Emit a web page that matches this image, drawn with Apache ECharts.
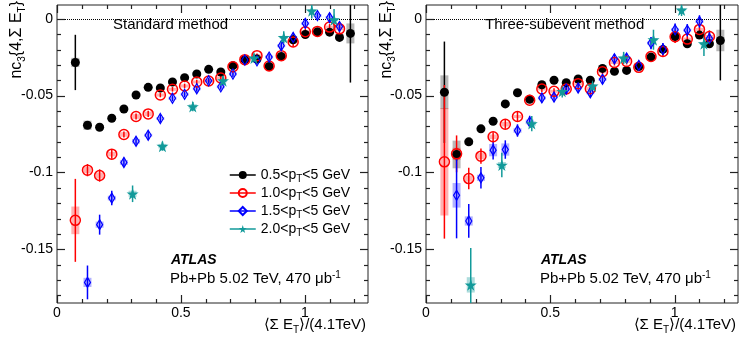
<!DOCTYPE html>
<html>
<head>
<meta charset="utf-8">
<script src="https://cdn.jsdelivr.net/npm/echarts@6/dist/echarts.min.js"></script>
<style>
html, body { margin: 0; background: #fff; }
#chart { width: 747px; height: 349px; }
</style>
</head>
<body>
<div id="chart"></div>
<script>
// centrality bins, <Sum ET>/(4.1TeV)
const xBins = [0.074, 0.123, 0.172, 0.221, 0.270, 0.319, 0.368, 0.417, 0.466, 0.515, 0.564, 0.612,
    0.661, 0.710, 0.758, 0.807, 0.856, 0.905, 0.953, 1.002, 1.051, 1.100, 1.140, 1.184]
const xBlack = xBins
const xRed = xBins.slice(0, 23)
const xBlue = xBins.slice(1, 23)
const xTealStd = [0.305, 0.4255, 0.548, 0.670, 0.795, 0.915, 1.028, 1.118]
const xTealSub = [0.180, 0.305, 0.4255, 0.548, 0.670, 0.795, 0.915, 1.028, 1.118]

// standard method
const stdBlack = [-0.0284, -0.0693, -0.0706, -0.0647, -0.0587, -0.0496, -0.0446, -0.0450, -0.0411, -0.0383, -0.0359, -0.0329,
    -0.0346, -0.0305, -0.0266, -0.0262, -0.0310, -0.0245, -0.0136, -0.0102, -0.0084, -0.0087, -0.0121, -0.0095]
const stdBlackStat = [0.018, 0.002, 0.002, 0.002, 0.0015, 0.0015, 0.0012, 0.0012, 0.0015, 0.0015, 0.0012, 0.0012,
    0.0012, 0.0015, 0.0015, 0.0015, 0.0015, 0.0015, 0.002, 0.002, 0.0015, 0.0015, 0.0025, 0.032]
const stdBlackSys = [0.003, 0.003, 0.0015, 0.001, 0.001, 0.001, 0.001, 0.001, 0.001, 0.001, 0.001, 0.001,
    0.001, 0.001, 0.001, 0.001, 0.001, 0.001, 0.001, 0.001, 0.001, 0.001, 0.0015, 0.0065]
const stdRed = [-0.1312, -0.0985, -0.1020, -0.0881, -0.0753, -0.0636, -0.0619, -0.0496, -0.0459, -0.0437, -0.0411, -0.0405,
    -0.0385, -0.0312, -0.0266, -0.0240, -0.0307, -0.0240, -0.0151, -0.0084, -0.0082, -0.0054, -0.0065]
const stdRedStat = [0.027, 0.004, 0.004, 0.003, 0.002, 0.002, 0.002, 0.0015, 0.0015, 0.0015, 0.0015, 0.0015,
    0.0015, 0.0015, 0.0015, 0.0015, 0.0015, 0.0015, 0.003, 0.002, 0.0015, 0.002, 0.004]
const stdRedSys = [0.009, 0.002, 0.002, 0.0015, 0.0015, 0.0015, 0.0015, 0.001, 0.001, 0.001, 0.001, 0.001,
    0.001, 0.001, 0.001, 0.001, 0.001, 0.001, 0.001, 0.001, 0.001, 0.001, 0.001]
const stdBlue = [-0.1716, -0.1340, -0.1167, -0.0935, -0.0797, -0.0758, -0.0649, -0.0517, -0.0491, -0.0455, -0.0403,
    -0.0442, -0.0359, -0.0268, -0.0273, -0.0249, -0.0175, -0.0121, -0.0030, 0.0021, 0.0008, -0.0050]
const stdBlueStat = [0.011, 0.0065, 0.0047, 0.003, 0.003, 0.003, 0.0025, 0.002, 0.002, 0.002, 0.002,
    0.002, 0.002, 0.002, 0.002, 0.002, 0.003, 0.003, 0.003, 0.002, 0.003, 0.003]
const stdBlueSys = [0.003, 0.002, 0.0015, 0.0015, 0.0015, 0.001, 0.001, 0.001, 0.001, 0.001, 0.001,
    0.001, 0.001, 0.001, 0.001, 0.001, 0.001, 0.001, 0.001, 0.001, 0.001, 0.001]
const stdTeal = [-0.1139, -0.0829, -0.0571, -0.0403, -0.0255, -0.0121, 0.0052, -0.0006]
const stdTealStat = [0.0054, 0.003, 0.003, 0.003, 0.003, 0.004, 0.005, 0.007]
const stdTealSys = [0.002, 0.0015, 0.0015, 0.001, 0.001, 0.001, 0.001, 0.001]

// three-subevent method
const subBlack = [-0.0478, -0.0883, -0.0801, -0.0716, -0.0667, -0.0554, -0.0481, -0.0524, -0.0429, -0.0400, -0.0416, -0.0392,
    -0.0400, -0.0323, -0.0342, -0.0336, -0.0310, -0.0249, -0.0199, -0.0115, -0.0162, -0.0106, -0.0162, -0.0141]
const subBlackStat = [0.033, 0.004, 0.002, 0.0025, 0.002, 0.002, 0.0015, 0.002, 0.0015, 0.0015, 0.0015, 0.0015,
    0.0015, 0.0015, 0.0015, 0.0015, 0.0015, 0.002, 0.002, 0.002, 0.0015, 0.0015, 0.002, 0.026]
const subBlackSys = [0.011, 0.009, 0.002, 0.0015, 0.001, 0.001, 0.001, 0.001, 0.001, 0.001, 0.001, 0.001,
    0.001, 0.001, 0.001, 0.001, 0.001, 0.001, 0.001, 0.001, 0.001, 0.001, 0.0015, 0.007]
const subRed = [-0.0931, -0.0879, -0.1040, -0.0894, -0.0768, -0.0686, -0.0636, -0.0530, -0.0457, -0.0472, -0.0457, -0.0422,
    -0.0455, -0.0344, -0.0284, -0.0277, -0.0316, -0.0245, -0.0212, -0.0117, -0.0132, -0.0069, -0.0115]
const subRedStat = [0.050, 0.012, 0.007, 0.005, 0.003, 0.003, 0.003, 0.002, 0.002, 0.002, 0.002, 0.002,
    0.002, 0.002, 0.002, 0.002, 0.002, 0.002, 0.003, 0.004, 0.002, 0.002, 0.004]
const subRedSys = [0.035, 0.004, 0.002, 0.002, 0.0015, 0.0015, 0.001, 0.001, 0.001, 0.001, 0.001, 0.001,
    0.001, 0.001, 0.001, 0.001, 0.001, 0.001, 0.001, 0.001, 0.001, 0.001, 0.001]
const subBlue = [-0.1149, -0.1316, -0.1035, -0.0855, -0.0851, -0.0727, -0.0671, -0.0515, -0.0509, -0.0457, -0.0450,
    -0.0481, -0.0394, -0.0260, -0.0255, -0.0303, -0.0158, -0.0197, -0.0071, -0.0074, -0.0017, -0.0128]
const subBlueStat = [0.028, 0.011, 0.007, 0.006, 0.006, 0.004, 0.004, 0.003, 0.003, 0.003, 0.003,
    0.003, 0.003, 0.003, 0.003, 0.003, 0.004, 0.004, 0.004, 0.004, 0.004, 0.005]
const subBlueSys = [0.008, 0.003, 0.002, 0.004, 0.004, 0.0015, 0.0015, 0.001, 0.001, 0.001, 0.001,
    0.001, 0.001, 0.001, 0.001, 0.001, 0.001, 0.001, 0.001, 0.001, 0.001, 0.001]
const subTeal = [-0.1732, -0.0952, -0.0682, -0.0472, -0.0437, -0.0255, -0.0136, 0.0058, -0.0162]
const subTealStat = [0.024, 0.008, 0.005, 0.004, 0.004, 0.004, 0.0065, 0.004, 0.008]
const subTealSys = [0.005, 0.002, 0.0015, 0.001, 0.001, 0.001, 0.001, 0.001, 0.001]

// axis ranges and tick values
const X_MIN = 0, X_MAX = 1.255
const Y_MIN = -0.185, Y_MAX = 0.009
const xMajor = [0, 0.5, 1]
const xMinor = [0.1, 0.2, 0.3, 0.4, 0.6, 0.7, 0.8, 0.9, 1.1, 1.2]
const yMajor = [0, -0.05, -0.1, -0.15]
const yMinor = [-0.01, -0.02, -0.03, -0.04, -0.06, -0.07, -0.08, -0.09, -0.11, -0.12, -0.13, -0.14, -0.16, -0.17, -0.18]

const FONT = 'Liberation Sans'
const STAR = 'path://M50,0 L61,35 L98,35 L68,57 L79,91 L50,70 L21,91 L32,57 L2,35 L39,35 Z'
const frameColor = '#222'

const groups = [
    { name: '0.5', color: '#000', box: 'rgba(0,0,0,0.28)', symbol: 'circle', size: 9, fill: '#000', width: 0 },
    { name: '1.0', color: '#ff0000', box: 'rgba(255,0,0,0.3)', symbol: 'circle', size: 10, fill: 'rgba(255,255,255,0)', width: 1.5 },
    { name: '1.5', color: '#0000ff', box: 'rgba(0,0,255,0.3)', symbol: 'diamond', size: [6, 10], fill: 'rgba(255,255,255,0)', width: 1.3 },
    { name: '2.0', color: '#129a9a', box: 'rgba(18,154,154,0.35)', symbol: STAR, size: 12, fill: '#129a9a', width: 0 }
]

const panels = [
    [[xBlack, stdBlack, stdBlackStat, stdBlackSys], [xRed, stdRed, stdRedStat, stdRedSys],
     [xBlue, stdBlue, stdBlueStat, stdBlueSys], [xTealStd, stdTeal, stdTealStat, stdTealSys]],
    [[xBlack, subBlack, subBlackStat, subBlackSys], [xRed, subRed, subRedStat, subRedSys],
     [xBlue, subBlue, subBlueStat, subBlueSys], [xTealSub, subTeal, subTealStat, subTealSys]]
]

const grid = [
    { left: 57, top: 5, width: 311, height: 298, show: true, borderColor: frameColor, borderWidth: 1, backgroundColor: 'transparent' },
    { left: 426, top: 5, width: 312, height: 298, show: true, borderColor: frameColor, borderWidth: 1, backgroundColor: 'transparent' }
]

const xAxis = [0, 1].map(g => ({
    type: 'value', gridIndex: g, min: X_MIN, max: X_MAX,
    splitLine: { show: false }, axisLine: { show: false, onZero: false }, axisTick: { show: false },
    axisLabel: { show: true, customValues: xMajor, fontFamily: FONT, fontSize: 14, color: '#000', margin: 3, formatter: v => String(v) }
}))
const yAxis = [0, 1].map(g => ({
    type: 'value', gridIndex: g, min: Y_MIN, max: Y_MAX,
    splitLine: { show: false }, axisLine: { show: false, onZero: false }, axisTick: { show: false },
    axisLabel: { show: true, customValues: yMajor, fontFamily: FONT, fontSize: 14, color: '#000', margin: 4, formatter: v => String(v) }
}))

// inward ticks on all four sides, placed through the axis scales
const crisp = v => Math.round(v) + 0.5
const tickLine = (x1, y1, x2, y2) => ({ type: 'line', shape: { x1, y1, x2, y2 }, style: { stroke: frameColor, lineWidth: 1.2 } })
const xTicks = (g, vals, len) => ({
    type: 'custom', xAxisIndex: g, yAxisIndex: g, silent: true, clip: false, z: 10,
    data: vals.map(v => [v, 0]),
    renderItem: (params, api) => {
        const cs = params.coordSys
        const x = crisp(api.coord([api.value(0), 0])[0])
        return { type: 'group', children: [
            tickLine(x, cs.y + cs.height, x, cs.y + cs.height - len),
            tickLine(x, cs.y, x, cs.y + len)
        ] }
    }
})
const yTicks = (g, vals, len) => ({
    type: 'custom', xAxisIndex: g, yAxisIndex: g, silent: true, clip: false, z: 10,
    data: vals.map(v => [0, v]),
    renderItem: (params, api) => {
        const cs = params.coordSys
        const y = crisp(api.coord([0, api.value(1)])[1])
        return { type: 'group', children: [
            tickLine(cs.x, y, cs.x + len, y),
            tickLine(cs.x + cs.width, y, cs.x + cs.width - len, y)
        ] }
    }
})

const series = []
panels.forEach((sets, g) => {
    series.push(xTicks(g, xMajor, 8), xTicks(g, xMinor, 4), yTicks(g, yMajor, 8), yTicks(g, yMinor, 4))
    sets.forEach((s, k) => {
        const grp = groups[k]
        const rows = s[0].map((x, i) => [x, s[1][i], s[2][i], s[3][i]])
        // systematic boxes
        series.push({
            type: 'custom', xAxisIndex: g, yAxisIndex: g, clip: true, silent: true, z: 1,
            data: rows,
            renderItem: (params, api) => {
                const x = api.value(0), y = api.value(1), e = api.value(3)
                const a = api.coord([x, y + e]), b = api.coord([x, y - e])
                return { type: 'rect', shape: { x: a[0] - 4, y: a[1], width: 8, height: Math.max(b[1] - a[1], 1) }, style: { fill: grp.box } }
            }
        })
        // statistical error bars
        series.push({
            type: 'custom', xAxisIndex: g, yAxisIndex: g, clip: true, silent: true, z: 2,
            data: rows,
            renderItem: (params, api) => {
                const x = api.value(0), y = api.value(1), e = api.value(2)
                const a = api.coord([x, y + e]), b = api.coord([x, y - e])
                return { type: 'line', shape: { x1: a[0], y1: a[1], x2: b[0], y2: b[1] }, style: { stroke: grp.color, lineWidth: 1.5 } }
            }
        })
        // markers
        const marker = {
            type: 'line', name: grp.name, xAxisIndex: g, yAxisIndex: g, z: 3 + k,
            data: rows.map(r => [r[0], r[1]]),
            symbol: grp.symbol, symbolSize: grp.size, showSymbol: true,
            lineStyle: { width: 0, color: grp.color },
            itemStyle: { color: grp.fill, borderColor: grp.color, borderWidth: grp.width, opacity: 1 },
            emphasis: { disabled: true }
        }
        if (k === 0) {
            marker.markLine = {
                silent: true, symbol: 'none', label: { show: false },
                lineStyle: { type: 'dotted', color: '#000', width: 1 },
                data: [{ yAxis: 0 }]
            }
        }
        series.push(marker)
    })
})

const sub = { fontSize: 10, fontFamily: FONT, verticalAlign: 'bottom', color: '#000' }
const sup = { fontSize: 10, fontFamily: FONT, verticalAlign: 'top', color: '#000' }
const txt = (x, y, text, extra) => ({
    type: 'text', x, y, silent: true,
    style: Object.assign({ text, fontFamily: FONT, fontSize: 14, fill: '#000', verticalAlign: 'middle', rich: { s: sub, p: sup } }, extra)
})

const graphic = []
;[0, 370].forEach((dx) => {
    graphic.push(txt(dx + 171, 260, 'ATLAS', { fontSize: 14, fontWeight: 'bold', fontStyle: 'italic' }))
    graphic.push(txt(dx + 170, 279, 'Pb+Pb 5.02 TeV, 470 μb{p|-1}', { fontSize: 15, lineHeight: 18 }))
    graphic.push(Object.assign(txt(dx + 17, 1, 'nc{s|3}{4,Σ E{s|T}}', { fontSize: 16, align: 'right', lineHeight: 21 }), { rotation: Math.PI / 2 }))
    graphic.push(txt(dx + 366, 325, '⟨Σ E{s|T}⟩/(4.1TeV)', { fontSize: 15, align: 'right', lineHeight: 20 }))
})
graphic.push(txt(113, 25, 'Standard method', { fontSize: 15 }))
graphic.push(txt(485, 25, 'Three-subevent method', { fontSize: 15 }))

const chart = echarts.init(document.getElementById('chart'))
chart.setOption({
    animation: false,
    grid,
    xAxis,
    yAxis,
    legend: {
        orient: 'vertical', left: 224, top: 161,
        itemWidth: 26, itemHeight: 10, itemGap: 0,
        data: groups.map(g => g.name),
        lineStyle: { width: 1.5, opacity: 1 },
        formatter: n => n + '<p{s|T}<5 GeV',
        textStyle: { fontFamily: FONT, fontSize: 14, color: '#000', lineHeight: 18, rich: { s: sub } }
    },
    graphic,
    series
})
</script>
</body>
</html>
